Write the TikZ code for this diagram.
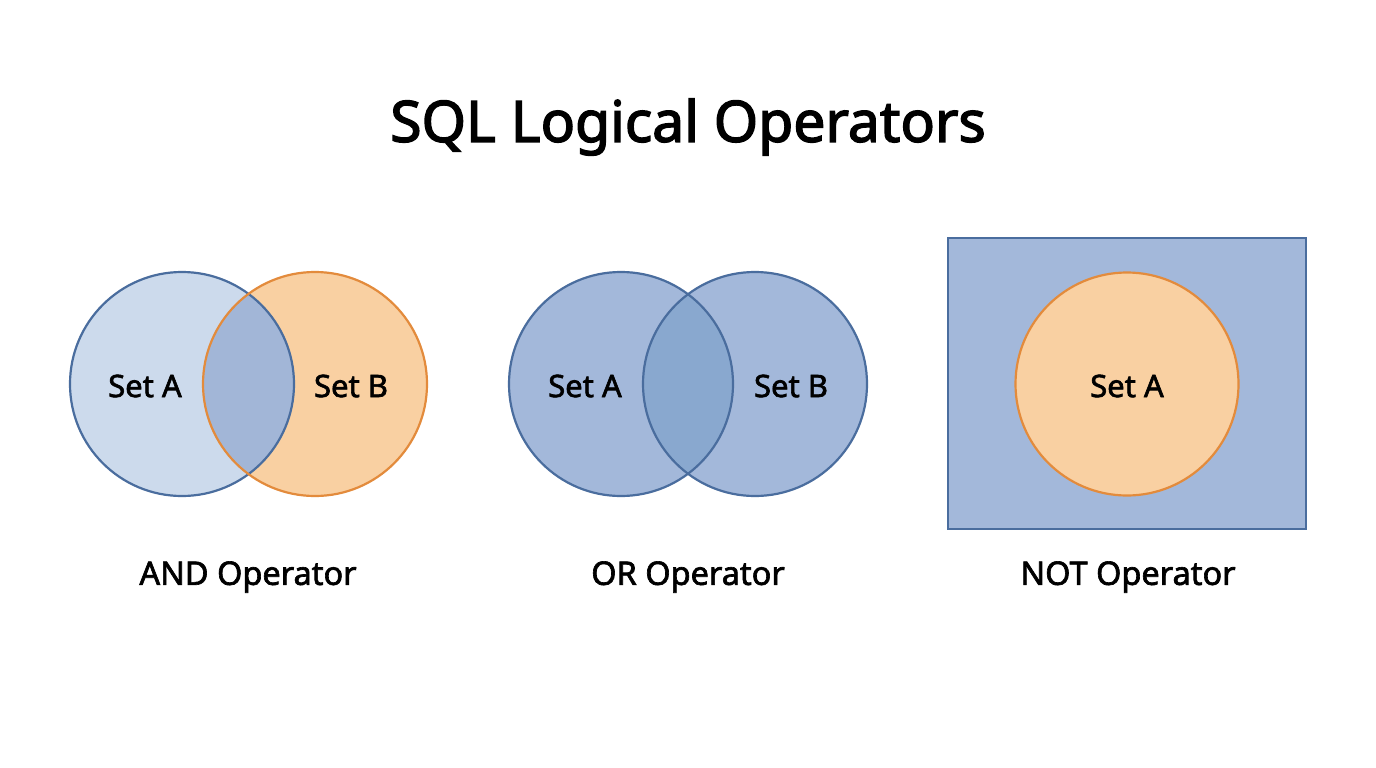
\documentclass[tikz,border=0pt]{standalone}
\usepackage{fontspec}
\setmainfont{Noto Sans}
\newfontfamily\medfont{Noto Sans}[FakeBold=2]
\newfontfamily\medfontT{Noto Sans}[FakeBold=2.5]
\definecolor{bstroke}{HTML}{4A6D9E}
\definecolor{ostroke}{HTML}{E38B3C}
\definecolor{lightblue}{HTML}{CCDAEC}
\definecolor{midblue}{HTML}{A3B8DA}
\definecolor{deepblue}{HTML}{89A8CF}
\definecolor{andmid}{HTML}{A2B6D7}
\definecolor{orangefill}{HTML}{F9D0A2}
\begin{document}
\begin{tikzpicture}[x=1pt,y=-1pt,
  setlabel/.style={font=\medfont\fontsize{31}{36}\selectfont, text=black, inner sep=0pt},
  oplabel/.style={font=\medfont\fontsize{32.5}{38}\selectfont, text=black, inner sep=0pt},
  bline/.style={draw=bstroke, line width=2.2pt},
  oline/.style={draw=ostroke, line width=2.2pt}]
\useasboundingbox[fill=white] (0,0) rectangle (1376,768);
% title
\node[font=\medfontT\fontsize{57}{66}\selectfont, inner sep=0pt] (title) at (688,127) {SQL Logical Operators};
% AND
\coordinate (a1) at (182,384);
\coordinate (b1) at (315,384);
\fill[lightblue] (a1) circle (112);
\fill[orangefill] (b1) circle (112);
\begin{scope}
  \clip (a1) circle (112);
  \fill[andmid] (b1) circle (112);
\end{scope}
\draw[bline] (a1) circle (112);
\draw[oline] (b1) circle (112);
\node[setlabel] (andA) at (145,386) {Set A};
\node[setlabel] (andB) at (351,386) {Set B};
\node[oplabel] (andop) at (248,577) {AND Operator};
% OR
\coordinate (a2) at (621,384);
\coordinate (b2) at (755,384);
\fill[midblue] (a2) circle (112);
\fill[midblue] (b2) circle (112);
\begin{scope}
  \clip (a2) circle (112);
  \fill[deepblue] (b2) circle (112);
\end{scope}
\draw[bline] (a2) circle (112);
\draw[bline] (b2) circle (112);
\node[setlabel] (orA) at (585,386) {Set A};
\node[setlabel] (orB) at (791,386) {Set B};
\node[oplabel] (orop) at (688,577) {OR Operator};
% NOT
\draw[bline, fill=midblue] (948,238) rectangle (1306,529);
\coordinate (a3) at (1127,384);
\draw[oline, fill=orangefill] (a3) circle (111.5);
\node[setlabel] (notA) at (1127,386) {Set A};
\node[oplabel] (notop) at (1128,577) {NOT Operator};
\end{tikzpicture}
\end{document}
